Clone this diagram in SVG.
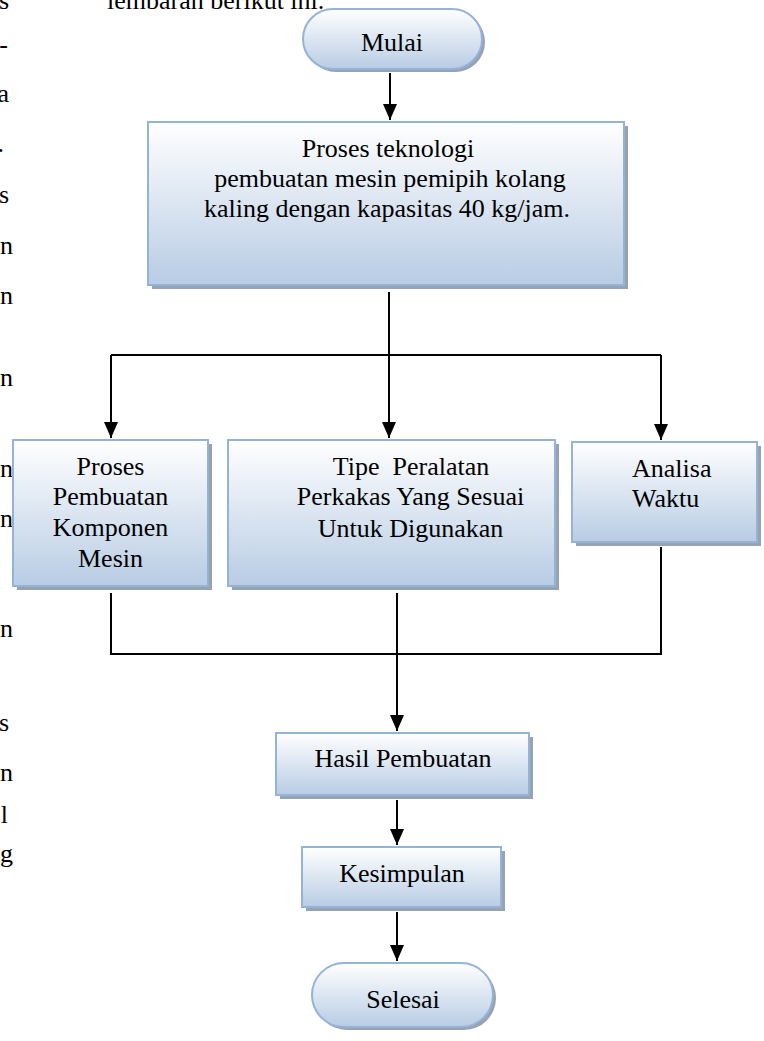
<svg xmlns="http://www.w3.org/2000/svg" width="764" height="1041" viewBox="0 0 764 1041">
<style>
.box{fill:url(#g);stroke:#95b3d7;stroke-width:2}
.sh{fill:#97a3b2}
.t{font-family:"Liberation Serif","Times New Roman",serif;font-size:26px;fill:#000;text-anchor:middle}
.ts{font-family:"Liberation Serif","Times New Roman",serif;font-size:26px;fill:#000;text-anchor:start}
.f{font-family:"Liberation Serif","Times New Roman",serif;font-size:26px;fill:#000;text-anchor:end}
.c{stroke:#000;stroke-width:2;fill:none}
.a{marker-end:url(#arr)}
</style>
<defs>
<linearGradient id="g" x1="0" y1="0" x2="0" y2="1">
<stop offset="0" stop-color="#ffffff"/>
<stop offset="1" stop-color="#b8cce4"/>
</linearGradient>
<marker id="arr" viewBox="0 0 16 14" refX="16" refY="7" markerWidth="16" markerHeight="14" markerUnits="userSpaceOnUse" orient="auto">
<path d="M0,0 L16,7 L0,14 z" fill="#000"/>
</marker>
</defs>

<g id="page-text">
<text class="ts" x="107" y="9">lembaran berikut ini.</text>
<text class="f" x="9" y="9">s</text>
<text class="f" x="8" y="53">-</text>
<text class="f" x="9" y="102">a</text>
<text class="f" x="4" y="152">.</text>
<text class="f" x="9" y="203">s</text>
<text class="f" x="13" y="254">n</text>
<text class="f" x="13" y="304">n</text>
<text class="f" x="13" y="386">n</text>
<text class="f" x="13" y="477">n</text>
<text class="f" x="13" y="527">n</text>
<text class="f" x="13" y="637">n</text>
<text class="f" x="9" y="731">s</text>
<text class="f" x="13" y="781">n</text>
<text class="f" x="8" y="823">l</text>
<text class="f" x="13" y="862">g</text>
</g>

<g id="connectors">
<path class="c a" d="M390,73 V120"/>
<path class="c" d="M389,292 V355 M111,355 H661"/>
<path class="c a" d="M111,355 V438"/>
<path class="c a" d="M389,355 V438"/>
<path class="c a" d="M661,355 V440"/>
<path class="c" d="M111,593 V654 H661 V547"/>
<path class="c a" d="M397,593 V731"/>
<path class="c a" d="M397,800 V845"/>
<path class="c a" d="M397,912 V961"/>
</g>

<g id="mulai">
<rect class="sh" x="306" y="12" width="179" height="60" rx="30"/>
<rect class="box" x="303" y="9" width="179" height="60" rx="30"/>
<text class="t" x="392" y="51">Mulai</text>
</g>

<g id="proses-teknologi">
<rect class="sh" x="152" y="126" width="476" height="163"/>
<rect class="box" x="148" y="122" width="476" height="163"/>
<text class="t" x="388" y="157">Proses teknologi</text>
<text class="t" x="390" y="187">pembuatan mesin pemipih kolang</text>
<text class="t" x="387" y="217">kaling dengan kapasitas 40 kg/jam.</text>
</g>

<g id="proses-pembuatan">
<rect class="sh" x="17" y="444" width="195" height="146"/>
<rect class="box" x="13" y="440" width="195" height="146"/>
<text class="t" x="110.5" y="475">Proses</text>
<text class="t" x="110.5" y="505">Pembuatan</text>
<text class="t" x="110.5" y="536">Komponen</text>
<text class="t" x="110.5" y="567">Mesin</text>
</g>

<g id="tipe-peralatan">
<rect class="sh" x="232" y="444" width="327" height="146"/>
<rect class="box" x="228" y="440" width="327" height="146"/>
<text class="t" x="411" y="475" xml:space="preserve">Tipe  Peralatan</text>
<text class="t" x="410.5" y="505">Perkakas Yang Sesuai</text>
<text class="t" x="410.5" y="537">Untuk Digunakan</text>
</g>

<g id="analisa-waktu">
<rect class="sh" x="576" y="446" width="185" height="100"/>
<rect class="box" x="572" y="442" width="185" height="100"/>
<text class="ts" x="632" y="477">Analisa</text>
<text class="ts" x="632" y="507">Waktu</text>
</g>

<g id="hasil-pembuatan">
<rect class="sh" x="280" y="737" width="253" height="62"/>
<rect class="box" x="276" y="733" width="253" height="62"/>
<text class="t" x="403" y="767">Hasil Pembuatan</text>
</g>

<g id="kesimpulan">
<rect class="sh" x="306" y="851" width="199" height="60"/>
<rect class="box" x="302" y="847" width="199" height="60"/>
<text class="t" x="402" y="882">Kesimpulan</text>
</g>

<g id="selesai">
<rect class="sh" x="315" y="966" width="181" height="64" rx="32"/>
<rect class="box" x="312" y="963" width="181" height="64" rx="32"/>
<text class="t" x="403" y="1008">Selesai</text>
</g>
</svg>
